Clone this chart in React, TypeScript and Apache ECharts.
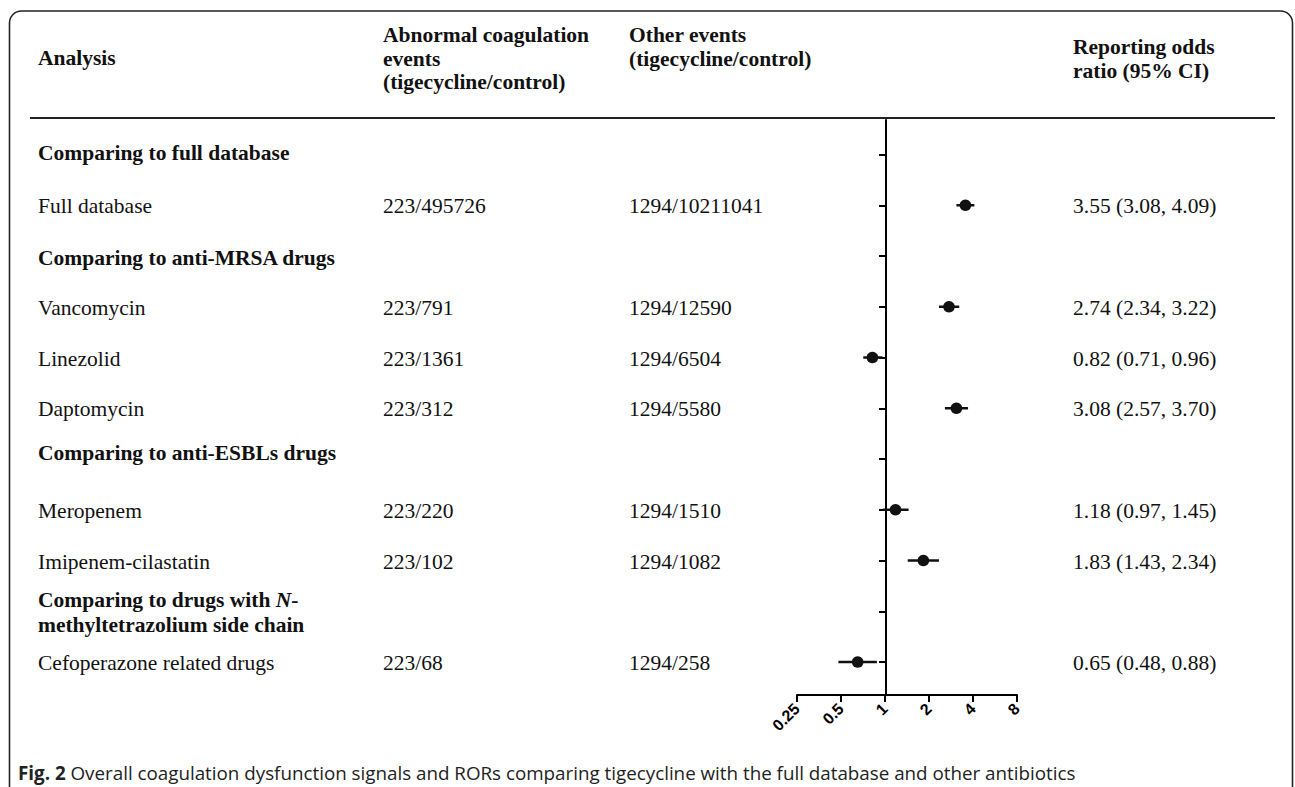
import React, { useEffect, useRef } from "react";
import * as echarts from "echarts";

// ---- data ----
const analysisLabels = [
  "Comparing to full database",
  "Full database",
  "Comparing to anti-MRSA drugs",
  "Vancomycin",
  "Linezolid",
  "Daptomycin",
  "Comparing to anti-ESBLs drugs",
  "Meropenem",
  "Imipenem-cilastatin",
  "Comparing to drugs with N-\nmethyltetrazolium side chain",
  "Cefoperazone related drugs",
];
const rowKinds = ["heading", "item", "heading", "item", "item", "item", "heading", "item", "item", "heading", "item"];
const coagEvents = ["", "223/495726", "", "223/791", "223/1361", "223/312", "", "223/220", "223/102", "", "223/68"];
const otherEvents = ["", "1294/10211041", "", "1294/12590", "1294/6504", "1294/5580", "", "1294/1510", "1294/1082", "", "1294/258"];
const rorRows = [1, 3, 4, 5, 7, 8, 10];
const rorEstimate = [3.55, 2.74, 0.82, 3.08, 1.18, 1.83, 0.65];
const rorLower = [3.08, 2.34, 0.71, 2.57, 0.97, 1.43, 0.48];
const rorUpper = [4.09, 3.22, 0.96, 3.7, 1.45, 2.34, 0.88];
const xTicks = [0.25, 0.5, 1, 2, 4, 8];
const rowTicks = [0, 1, 2, 3, 4, 5, 6, 7, 8, 9, 10];
const headerAnalysis = "Analysis";
const headerCoag = "Abnormal coagulation\nevents\n(tigecycline/control)";
const headerOther = "Other events\n(tigecycline/control)";
const headerRor = "Reporting odds\nratio (95% CI)";
const captionBold = "Fig. 2";
const captionText = " Overall coagulation dysfunction signals and RORs comparing tigecycline with the full database and other antibiotics";

// ---- layout (not data) ----
const SERIF = "'Liberation Serif', 'Times New Roman', serif";
const FS = 21.5;
const HEAD_LH = 23.5;
const headingDy: Record<number, number> = { 0: -3, 2: 1, 6: -7 };

export default function App() {
  const ref = useRef<HTMLDivElement>(null);
  useEffect(() => {
    if (!ref.current) return;
    const chart = echarts.init(ref.current, null, { renderer: "svg" });
    const forestData = rorRows.map((r, i) => [rorEstimate[i], rorLower[i], rorUpper[i], r]);
    chart.setOption({
      animation: false,
      backgroundColor: "#ffffff",
      grid: { left: 797, right: 278, top: 120, bottom: 92, containLabel: false },
      xAxis: {
        type: "log",
        logBase: 2,
        min: 0.25,
        max: 8,
        position: "bottom",
        axisLine: { show: true, onZero: false, lineStyle: { color: "#000", width: 2 } },
        axisTick: { show: true, length: 7, customValues: xTicks, lineStyle: { color: "#000", width: 2 } },
        axisLabel: {
          show: true,
          customValues: xTicks,
          rotate: 45,
          margin: 11,
          fontSize: 16,
          fontWeight: "bold",
          fontFamily: "'Liberation Sans', Arial, sans-serif",
          color: "#000",
          formatter: (v: number) => String(v),
        },
        splitLine: { show: false },
      },
      yAxis: {
        type: "value",
        inverse: true,
        min: -0.68,
        max: 10.65,
        position: "left",
        offset: -89,
        axisLine: { show: true, onZero: false, lineStyle: { color: "#000", width: 2 } },
        axisTick: { show: true, length: 7, customValues: rowTicks, lineStyle: { color: "#000", width: 2 } },
        axisLabel: { show: false },
        splitLine: { show: false },
      },
      series: [
        {
          type: "custom",
          data: forestData,
          encode: { x: [0, 1, 2], y: 3 },
          clip: false,
          renderItem: (params: any, api: any) => {
            const est = api.value(0);
            const lo = api.value(1);
            const hi = api.value(2);
            const row = api.value(3);
            const pLo = api.coord([lo, row]);
            const pHi = api.coord([hi, row]);
            const pE = api.coord([est, row]);
            return {
              type: "group",
              children: [
                {
                  type: "line",
                  shape: { x1: pLo[0], y1: pLo[1], x2: pHi[0], y2: pHi[1] },
                  style: { stroke: "#111", lineWidth: 2.5 },
                },
                {
                  type: "circle",
                  shape: { cx: pE[0], cy: pE[1], r: 5.8 },
                  style: { fill: "#111" },
                },
              ],
            };
          },
        },
      ],
    });

    const rowY = (i: number) => chart.convertToPixel({ yAxisIndex: 0 }, i) as number;
    const textEl = (text: string, x: number, y: number, bold: boolean, extra: any = {}) => ({
      type: "text",
      silent: true,
      style: {
        text,
        x,
        y,
        fontFamily: SERIF,
        fontSize: FS,
        fontWeight: bold ? "bold" : "normal",
        fill: "#111",
        verticalAlign: "middle",
        align: "left",
        ...extra,
      },
    });

    const graphics: any[] = [];
    graphics.push({
      type: "rect",
      silent: true,
      shape: { x: 9.5, y: 11, width: 1283, height: 830, r: 12 },
      style: { fill: "none", stroke: "#222", lineWidth: 1.6 },
      z: 1,
    });
    graphics.push({
      type: "line",
      silent: true,
      shape: { x1: 30, y1: 118, x2: 1275, y2: 118 },
      style: { stroke: "#222", lineWidth: 2 },
    });
    // header
    graphics.push(textEl(headerAnalysis, 38, 58, true));
    graphics.push(textEl(headerCoag, 383, 35 - HEAD_LH / 2, true, { verticalAlign: "top", lineHeight: HEAD_LH }));
    graphics.push(textEl(headerOther, 629, 35 - HEAD_LH / 2, true, { verticalAlign: "top", lineHeight: HEAD_LH }));
    graphics.push(textEl(headerRor, 1073, 47 - HEAD_LH / 2, true, { verticalAlign: "top", lineHeight: HEAD_LH }));

    analysisLabels.forEach((label, i) => {
      const y = rowY(i) + (headingDy[i] || 0) + 1;
      if (rowKinds[i] === "heading") {
        if (label.indexOf("\n") >= 0) {
          const parts = label.split("\n");
          const first = parts[0];
          const nIdx = first.lastIndexOf("N-");
          graphics.push({
            type: "text",
            silent: true,
            style: {
              text: `{b|${first.slice(0, nIdx)}}{bi|N}{b|-}\n{b|${parts[1]}}`,
              x: 38,
              y,
              verticalAlign: "middle",
              align: "left",
              lineHeight: 25,
              rich: {
                b: { fontFamily: SERIF, fontSize: FS, fontWeight: "bold", fill: "#111", lineHeight: 25 },
                bi: { fontFamily: SERIF, fontSize: FS, fontWeight: "bold", fontStyle: "italic", fill: "#111", lineHeight: 25 },
              },
            },
          });
        } else {
          graphics.push(textEl(label, 38, y, true));
        }
      } else {
        graphics.push(textEl(label, 38, y, false));
        graphics.push(textEl(coagEvents[i], 383, y, false));
        graphics.push(textEl(otherEvents[i], 629, y, false));
      }
    });
    rorRows.forEach((r, i) => {
      const txt = `${rorEstimate[i].toFixed(2)} (${rorLower[i].toFixed(2)}, ${rorUpper[i].toFixed(2)})`;
      graphics.push(textEl(txt, 1073, rowY(r) + 1, false));
    });
    // caption
    graphics.push({
      type: "text",
      silent: true,
      style: {
        text: `{b|${captionBold}}{r|${captionText}}`,
        x: 18,
        y: 773,
        verticalAlign: "middle",
        align: "left",
        rich: {
          b: { fontFamily: "'Open Sans', 'Noto Sans', sans-serif", fontSize: 18.8, fontWeight: "bold", fill: "#222" },
          r: { fontFamily: "'Open Sans', 'Noto Sans', sans-serif", fontSize: 18.8, fill: "#222" },
        },
      },
    });
    chart.setOption({ graphic: graphics });
    return () => chart.dispose();
  }, []);
  return <div ref={ref} style={{ position: "absolute", left: 0, top: 0, width: 1295, height: 787 }} />;
}
